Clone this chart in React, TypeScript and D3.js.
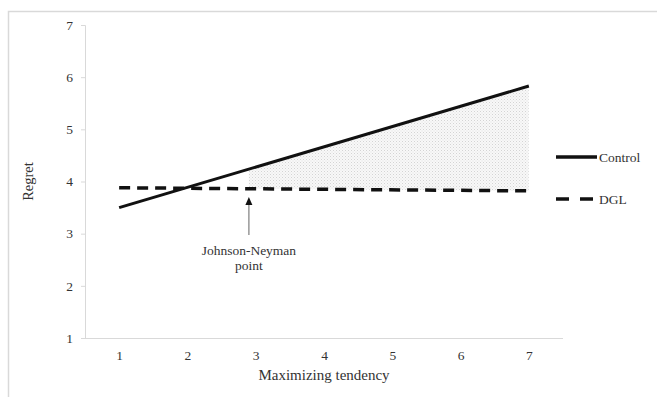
import React, { useEffect, useRef } from "react";
import * as d3 from "d3";

// line endpoints (maximizing tendency 1 and 7)
const xValues = [1, 7];
const control = [3.5, 5.83];
const dgl = [3.88, 3.82];
const xTicks = [1, 2, 3, 4, 5, 6, 7];
const yTicks = [1, 2, 3, 4, 5, 6, 7];
const jnPoint = 2.9;
const seriesNames = ["Control", "DGL"];

const FONT = "Liberation Serif";

const App = () => {
  const svgRef = useRef<SVGSVGElement>(null);

  useEffect(() => {
    const svg = d3.select(svgRef.current);
    const width = 657;
    const height = 397;
    svg.selectAll("*").remove();

    const x = d3.scaleLinear().domain([0.5, 7.5]).range([85, 563]);
    const y = d3.scaleLinear().domain([1, 7]).range([338, 25]);

    // outer frame
    svg.append("path")
      .attr("d", `M8.5,${height} V11.5 H${width}`)
      .attr("fill", "none")
      .attr("stroke", "#d9d9d9")
      .attr("stroke-width", 1.5);

    // dotted pattern
    const defs = svg.append("defs");
    const pat = defs.append("pattern")
      .attr("id", "dots")
      .attr("width", 3)
      .attr("height", 3)
      .attr("patternUnits", "userSpaceOnUse");
    pat.append("rect").attr("width", 3).attr("height", 3).attr("fill", "#f8f8f8");
    pat.append("rect").attr("x", 0).attr("y", 0).attr("width", 1).attr("height", 1).attr("fill", "#d4d4d4");
    pat.append("rect").attr("x", 1.5).attr("y", 1.5).attr("width", 1).attr("height", 1).attr("fill", "#e0e0e0");

    defs.append("clipPath").attr("id", "jnclip")
      .append("rect")
      .attr("x", x(jnPoint))
      .attr("y", 0)
      .attr("width", x(7) - x(jnPoint))
      .attr("height", height);

    const pts = xValues.map((v, i) => ({ x: v, c: control[i], d: dgl[i] }));

    // shaded region of significance
    const area = d3.area<any>()
      .x(d => x(d.x))
      .y0(d => y(d.d))
      .y1(d => y(d.c));
    svg.append("path")
      .datum(pts)
      .attr("d", area)
      .attr("fill", "url(#dots)")
      .attr("clip-path", "url(#jnclip)");

    // axes
    const yAxis = svg.append("g")
      .attr("transform", `translate(${x(0.5)},0)`)
      .call(d3.axisLeft(y).tickValues(yTicks).tickSize(4).tickPadding(8).tickFormat(d3.format("d")));
    yAxis.select(".domain").attr("stroke", "#d9d9d9");
    yAxis.selectAll(".tick line").attr("stroke", "#d9d9d9");
    yAxis.selectAll("text").style("font-family", FONT).style("font-size", "13.5px").attr("fill", "#333");

    const xAxis = svg.append("g")
      .attr("transform", `translate(0,${y(1)})`)
      .call(d3.axisBottom(x).tickValues(xTicks).tickSize(0).tickPadding(12).tickFormat(d3.format("d")));
    xAxis.select(".domain").attr("stroke", "#d9d9d9").attr("d", `M${x(0.5)},0.5H${x(7.5)}`);
    xAxis.selectAll("text").style("font-family", FONT).style("font-size", "13.5px").attr("fill", "#333");

    const label = (px: number, py: number, txt: string, size: number, anchor = "middle") =>
      svg.append("text")
        .attr("x", px)
        .attr("y", py)
        .attr("text-anchor", anchor)
        .style("font-family", FONT)
        .style("font-size", `${size}px`)
        .attr("fill", "#333")
        .text(txt);

    // axis titles
    label((x(0.5) + x(7.5)) / 2, 380, "Maximizing tendency", 15);
    label(0, 0, "Regret", 14.5)
      .attr("transform", `translate(33,${(y(1) + y(7)) / 2}) rotate(-90)`);

    // lines
    const line = (key: "c" | "d") => d3.line<any>().x(d => x(d.x)).y(d => y(d[key]));
    svg.append("path").attr("d", line("c")(pts))
      .attr("fill", "none").attr("stroke", "#111").attr("stroke-width", 3);
    svg.append("path").attr("d", line("d")(pts))
      .attr("fill", "none").attr("stroke", "#111").attr("stroke-width", 3.5)
      .attr("stroke-dasharray", "11,7");

    // Johnson-Neyman arrow
    const ax = x(jnPoint);
    svg.append("line")
      .attr("x1", ax).attr("x2", ax)
      .attr("y1", 235).attr("y2", 204)
      .attr("stroke", "#888").attr("stroke-width", 1.3);
    svg.append("path")
      .attr("d", `M${ax},197L${ax - 3.5},205L${ax + 3.5},205Z`)
      .attr("fill", "#111");
    label(ax, 255, "Johnson-Neyman", 13.5);
    label(ax, 270, "point", 13.5);

    // legend
    const legend = svg.append("g").attr("transform", "translate(556,157)");
    seriesNames.forEach((name, i) => {
      const g = legend.append("g").attr("transform", `translate(0,${i * 42})`);
      g.append("line")
        .attr("x1", 0).attr("x2", i === 1 ? 38 : 41).attr("y1", 0).attr("y2", 0)
        .attr("stroke", "#111").attr("stroke-width", 3.5)
        .attr("stroke-dasharray", i === 1 ? "13,11" : null);
      g.append("text")
        .attr("x", 43).attr("y", 5)
        .style("font-family", FONT)
        .style("font-size", "13.5px")
        .attr("fill", "#333")
        .text(name);
    });
  }, []);

  return (
    <svg
      ref={svgRef}
      width={657}
      height={397}
      style={{ position: "absolute", left: 0, top: 0, background: "#fff" }}
    />
  );
};

export default App;
